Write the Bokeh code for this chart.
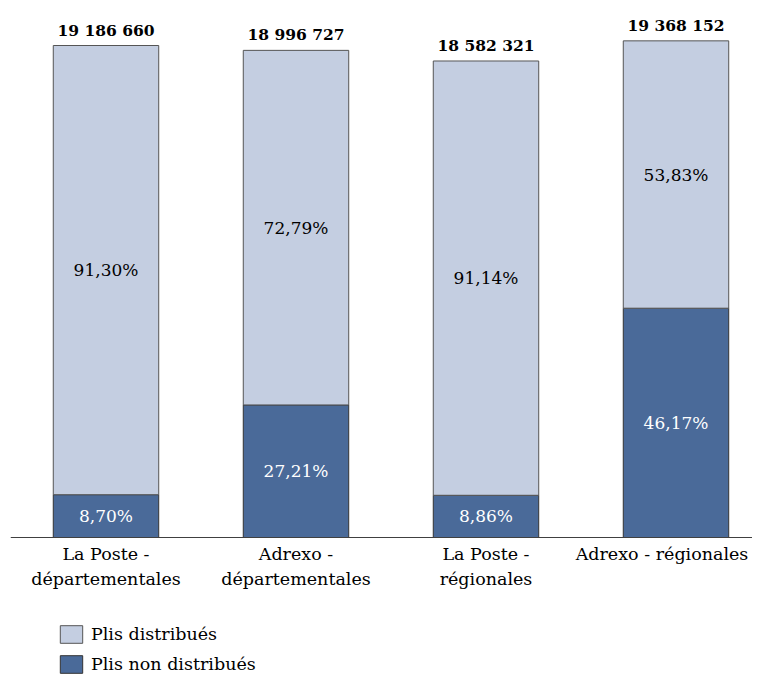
from bokeh.plotting import figure
from bokeh.models import ColumnDataSource, Range1d, Legend, LegendItem, Span
from bokeh.core.properties import value
from bokeh.embed import file_html
from bokeh.resources import INLINE

categories = ["La Poste -\ndépartementales", "Adrexo -\ndépartementales",
              "La Poste -\nrégionales", "Adrexo - régionales"]
totals = [19186660, 18996727, 18582321, 19368152]
total_labels = ["19 186 660", "18 996 727", "18 582 321", "19 368 152"]
pct_non = [8.70, 27.21, 8.86, 46.17]
pct_dist = [91.30, 72.79, 91.14, 53.83]

FONT = "DejaVu Serif"
LIGHT = "#C4CEE1"
DARK = "#4A6A99"

xs = list(range(len(categories)))
non_vals = [t * p / 100 for t, p in zip(totals, pct_non)]
dist_vals = [t - n for t, n in zip(totals, non_vals)]

# keep the last (long, single-line) category label inside the canvas
cat_shift = [0, 0, 0, -14]

src = ColumnDataSource(dict(
    x=xs, total=totals, non=non_vals, dist=dist_vals, zero=[0] * len(xs),
    cat=categories, cat_dx=cat_shift,
    non_mid=[n / 2 for n in non_vals],
    dist_mid=[n + d / 2 for n, d in zip(non_vals, dist_vals)],
    non_lab=[f"{p:.2f}%".replace(".", ",") for p in pct_non],
    dist_lab=[f"{p:.2f}%".replace(".", ",") for p in pct_dist],
    tot_lab=total_labels,
))

PX = 19186660 / 492.0  # data units per pixel
x_start = -95.5 / 190
p = figure(width=752, height=675, output_backend="svg", toolbar_location=None,
           x_range=Range1d(x_start, x_start + 742 / 190),
           y_range=Range1d(-138 * PX, 537 * PX),
           min_border_left=10, min_border_right=0, min_border_top=0, min_border_bottom=0)
p.frame_height = 675
p.frame_width = 742
p.xaxis.visible = False
p.yaxis.visible = False
p.xgrid.visible = False
p.ygrid.visible = False
p.outline_line_color = None

r_non = p.vbar(x="x", width=0.555, bottom=0, top="non", source=src,
               fill_color=DARK, line_color="#333333", line_width=1)
r_dist = p.vbar(x="x", width=0.555, bottom="non", top="total", source=src,
                fill_color=LIGHT, line_color="#555555", line_width=1)

p.add_layout(Span(location=0, dimension="width", line_color="#404040", line_width=1))

p.text(x="x", y="non_mid", text="non_lab", source=src, text_align="center",
       text_baseline="middle", text_color="white", text_font=value(FONT),
       text_font_size="17px")
p.text(x="x", y="dist_mid", text="dist_lab", source=src, text_align="center",
       text_baseline="middle", text_color="black", text_font=value(FONT),
       text_font_size="17px")
p.text(x="x", y="total", text="tot_lab", source=src, text_align="center",
       text_baseline="bottom", y_offset=-6, text_color="black",
       text_font=value(FONT), text_font_size="15.5px", text_font_style="bold")
p.text(x="x", y="zero", text="cat", source=src, text_align="center",
       text_baseline="top", x_offset="cat_dx", y_offset=6, text_color="black",
       text_font=value(FONT), text_font_size="17.5px", text_line_height=1.25)

legend = Legend(items=[LegendItem(label="Plis distribués", renderers=[r_dist]),
                       LegendItem(label="Plis non distribués", renderers=[r_non])],
                location=(47, 0), orientation="vertical")
legend.label_text_font = FONT
legend.label_text_font_size = "17.5px"
legend.label_text_color = "black"
legend.glyph_height = 22
legend.glyph_width = 28
legend.spacing = 8
legend.label_standoff = 6
legend.padding = 0
legend.margin = 0
legend.border_line_color = None
legend.background_fill_alpha = 0
p.add_layout(legend)

open("out.html", "w").write(file_html(p, INLINE))
